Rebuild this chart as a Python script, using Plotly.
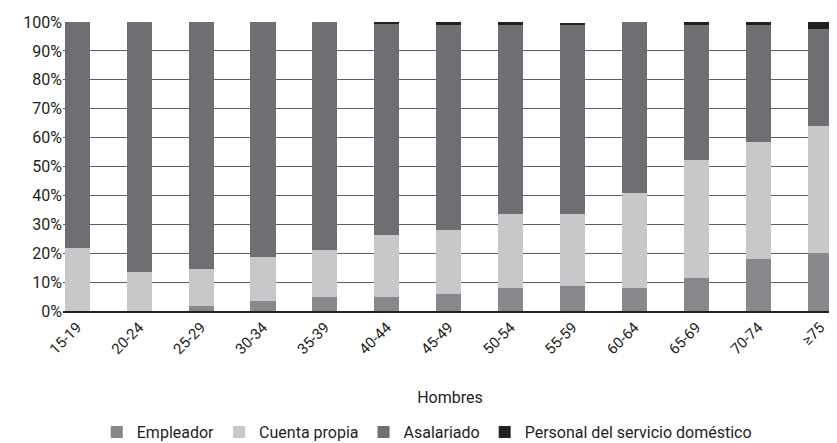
import plotly.graph_objects as go

grupos = ['15-19', '20-24', '25-29', '30-34', '35-39', '40-44', '45-49',
          '50-54', '55-59', '60-64', '65-69', '70-74', '≥75']

empleador = [0.0, 0.0, 1.7, 3.5, 5.0, 5.0, 5.9, 8.0, 8.7, 8.0, 11.5, 18.1, 20.2]
cuenta_propia = [21.9, 13.6, 13.0, 15.3, 16.2, 21.4, 22.3, 25.7, 24.7, 33.0, 40.6, 40.3, 43.8]
asalariado = [78.1, 86.4, 85.3, 81.2, 78.8, 73.1, 70.9, 65.4, 65.4, 59.0, 47.0, 40.7, 33.7]
servicio_domestico = [0.0, 0.0, 0.0, 0.0, 0.0, 0.5, 0.9, 0.9, 0.8, 0.0, 0.9, 0.9, 2.3]

ticks_y = [0, 10, 20, 30, 40, 50, 60, 70, 80, 90, 100]

font = 'Liberation Sans Narrow, Arial Narrow, Roboto, sans-serif'

series = [
    ('Empleador', empleador, '#88878c'),
    ('Cuenta propia', cuenta_propia, '#c8c7c9'),
    ('Asalariado', asalariado, '#6f6e73'),
    ('Personal del servicio doméstico', servicio_domestico, '#231f20'),
]

fig = go.Figure()
for nombre, valores, color in series:
    fig.add_trace(go.Bar(x=grupos, y=valores, name=nombre,
                         marker=dict(color=color, line=dict(width=0)),
                         width=0.404))

# the page body has an 8px margin, so the figure is drawn 8px smaller
fig.update_layout(
    barmode='stack',
    width=829, height=435,
    margin=dict(l=55, r=0, t=14, b=132, autoexpand=False),
    plot_bgcolor='white', paper_bgcolor='white',
    font=dict(family=font, size=15, color='#231f20'),
    showlegend=True,
    legend=dict(orientation='h', x=0.47, xanchor='center', y=-0.36, yanchor='top',
                font=dict(size=16), traceorder='normal'),
    xaxis=dict(range=[-0.23, 12.27], tickangle=-45, showgrid=False,
               showline=True, linecolor='#231f20', linewidth=1.5,
               ticks='', tickfont=dict(size=15), automargin=False,
               title=dict(text='Hombres', font=dict(size=16), standoff=35)),
    yaxis=dict(range=[0, 100], tickvals=ticks_y,
               ticktext=[f'{v}%' for v in ticks_y],
               showgrid=True, gridcolor='#5e5e5e', gridwidth=1,
               zeroline=False, ticks='', tickfont=dict(size=16),
               automargin=False),
)

fig.write_html('out.html')
